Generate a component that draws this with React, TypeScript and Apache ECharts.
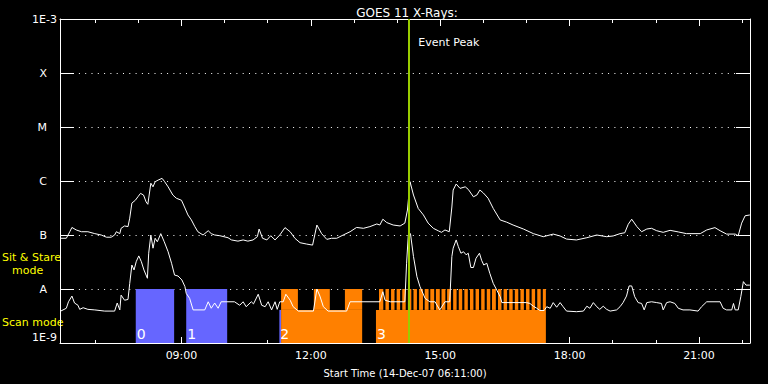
import React, { useEffect, useRef } from 'react';
import * as echarts from 'echarts';

// ---- axis ranges / ticks ----
const startHour = 6 + 11 / 60; // 14-Dec-07 06:11:00
const endHour = 22 + 11 / 60;
const peakHour = 14.27;
const peakLabelFlux = 3.6e-4;
const xMinorTicks = [7, 8, 9, 10, 11, 12, 13, 14, 15, 16, 17, 18, 19, 20, 21, 22];
const xMajorTicks = [9, 12, 15, 18, 21];
const yTickExp = [-9, -8, -7, -6, -5, -4, -3];
const yTickLabel = ['1E-9', 'A', 'B', 'C', 'M', 'X', '1E-3'];

// ---- GOES 11 long channel (1-8 A) ----
const longTime = [6.20, 6.33, 6.41, 6.46, 6.56, 6.68, 6.83, 6.99, 7.14, 7.26, 7.37, 7.45, 7.49, 7.57, 7.60, 7.68, 7.76, 7.80, 7.85, 7.93, 7.99, 8.05, 8.12, 8.18, 8.22, 8.29, 8.34, 8.39, 8.46, 8.55, 8.61, 8.69, 8.80, 8.88, 9.00, 9.07, 9.15, 9.23, 9.31, 9.38, 9.50, 9.62, 9.69, 9.77, 9.89, 10.08, 10.16, 10.31, 10.43, 10.54, 10.66, 10.76, 10.80, 10.88, 10.98, 11.07, 11.17, 11.28, 11.40, 11.52, 11.63, 11.75, 11.90, 12.04, 12.14, 12.25, 12.37, 12.48, 12.60, 12.75, 12.91, 13.06, 13.22, 13.37, 13.53, 13.60, 13.67, 13.76, 13.91, 14.07, 14.18, 14.24, 14.30, 14.38, 14.49, 14.61, 14.72, 14.84, 14.96, 15.03, 15.11, 15.21, 15.27, 15.30, 15.37, 15.46, 15.58, 15.65, 15.77, 15.85, 15.92, 16.00, 16.11, 16.23, 16.39, 16.54, 16.69, 16.93, 17.16, 17.39, 17.62, 17.78, 17.93, 18.16, 18.40, 18.63, 18.86, 19.01, 19.17, 19.28, 19.36, 19.44, 19.56, 19.67, 19.79, 19.90, 20.02, 20.17, 20.33, 20.52, 20.71, 21.03, 21.18, 21.37, 21.49, 21.64, 21.84, 21.91, 21.99, 22.07, 22.18];
const longFlux = [8.7e-8, 8.7e-8, 1.15e-7, 1.38e-7, 1.24e-7, 1.15e-7, 1.15e-7, 1.06e-7, 1.0e-7, 9.1e-8, 9.1e-8, 1.0e-7, 1.15e-7, 1.06e-7, 1.33e-7, 1.47e-7, 1.43e-7, 2.05e-7, 3.9e-7, 4.4e-7, 5.1e-7, 5.9e-7, 5.5e-7, 4.1e-7, 3.7e-7, 9.1e-7, 7.8e-7, 9.7e-7, 1.04e-6, 1.12e-6, 9.7e-7, 7.8e-7, 5.5e-7, 4.8e-7, 4.4e-7, 3.3e-7, 2.35e-7, 1.9e-7, 1.43e-7, 1.15e-7, 1.0e-7, 1.2e-7, 1.06e-7, 1.0e-7, 9.7e-8, 8.9e-8, 8.1e-8, 7.7e-8, 8.1e-8, 7.7e-8, 8.1e-8, 9.3e-8, 1.29e-7, 8.7e-8, 8.1e-8, 9.7e-8, 8.1e-8, 1.0e-7, 1.37e-7, 1.15e-7, 8.7e-8, 7.2e-8, 6.8e-8, 6.5e-8, 1.53e-7, 1.06e-7, 8.3e-8, 8.7e-8, 8.7e-8, 1.0e-7, 1.15e-7, 1.38e-7, 1.33e-7, 1.43e-7, 1.6e-7, 1.53e-7, 1.96e-7, 1.7e-7, 1.53e-7, 1.47e-7, 1.66e-7, 2.9e-7, 9.7e-7, 5.5e-7, 3.1e-7, 2.35e-7, 1.66e-7, 1.33e-7, 1.19e-7, 1.12e-7, 1.24e-7, 1.15e-7, 3.3e-7, 6.8e-7, 8.8e-7, 7.3e-7, 7.8e-7, 7.0e-7, 5.1e-7, 5.5e-7, 6.8e-7, 6.0e-7, 4.8e-7, 3.1e-7, 1.9e-7, 1.73e-7, 1.53e-7, 1.29e-7, 1.06e-7, 9.3e-8, 1.04e-7, 9.6e-8, 8.4e-8, 8.1e-8, 8.9e-8, 1.0e-7, 9.3e-8, 9.6e-8, 1.06e-7, 1.1e-7, 1.58e-7, 1.96e-7, 1.43e-7, 1.15e-7, 1.29e-7, 1.33e-7, 1.2e-7, 1.12e-7, 1.22e-7, 1.14e-7, 1.06e-7, 1.06e-7, 1.24e-7, 1.37e-7, 1.2e-7, 1.04e-7, 1.04e-7, 9.7e-8, 1.66e-7, 2.27e-7, 2.35e-7];

// ---- GOES 11 short channel (0.5-4 A) ----
const shortTime = [6.20, 6.33, 6.38, 6.46, 6.52, 6.60, 6.64, 6.72, 6.83, 6.99, 7.22, 7.45, 7.51, 7.57, 7.60, 7.68, 7.76, 7.80, 7.85, 7.90, 7.95, 8.01, 8.07, 8.13, 8.21, 8.24, 8.29, 8.34, 8.39, 8.44, 8.52, 8.60, 8.69, 8.77, 8.84, 8.92, 9.01, 9.08, 9.11, 9.19, 9.27, 9.54, 9.62, 9.69, 9.77, 9.85, 9.92, 10.23, 10.35, 10.43, 10.50, 10.62, 10.67, 10.78, 10.86, 10.94, 11.01, 11.09, 11.17, 11.22, 11.28, 11.36, 11.42, 11.52, 11.59, 11.71, 12.06, 12.14, 12.21, 12.29, 12.40, 12.83, 12.91, 13.60, 13.67, 13.72, 13.84, 14.18, 14.22, 14.26, 14.31, 14.38, 14.46, 14.53, 14.65, 14.76, 14.88, 14.99, 15.11, 15.22, 15.27, 15.30, 15.37, 15.42, 15.48, 15.54, 15.60, 15.65, 15.71, 15.77, 15.83, 15.91, 15.96, 16.01, 16.08, 16.15, 16.23, 16.31, 16.39, 16.43, 17.00, 17.08, 17.16, 17.24, 17.31, 17.41, 17.47, 17.55, 17.62, 17.70, 17.78, 17.85, 17.93, 18.16, 18.32, 18.40, 18.47, 18.55, 18.63, 18.70, 18.78, 18.86, 18.94, 19.09, 19.17, 19.24, 19.32, 19.38, 19.44, 19.51, 19.59, 19.67, 19.73, 19.79, 19.90, 20.02, 20.13, 20.17, 20.25, 20.33, 20.44, 20.52, 20.63, 20.79, 20.98, 21.06, 21.18, 21.49, 21.56, 21.64, 21.76, 21.80, 21.84, 21.91, 21.97, 22.03, 22.09, 22.18];
const shortFlux = [3.9e-9, 4.4e-9, 5.8e-9, 7.4e-9, 5.5e-9, 5.0e-9, 4.2e-9, 4.5e-9, 4.2e-9, 4.1e-9, 3.9e-9, 3.9e-9, 5.5e-9, 4.1e-9, 7.7e-9, 6.2e-9, 6.4e-9, 1.27e-8, 2.78e-8, 2.25e-8, 3.2e-8, 4.1e-8, 3.2e-8, 2.25e-8, 1.58e-8, 4.6e-8, 1.0e-7, 5.7e-8, 8.7e-8, 7.5e-8, 1.06e-7, 7.5e-8, 4.9e-8, 3.0e-8, 1.81e-8, 1.74e-8, 1.47e-8, 1.11e-8, 8.3e-9, 6.7e-9, 4.1e-9, 4.1e-9, 5.8e-9, 4.4e-9, 5.5e-9, 4.4e-9, 5.8e-9, 5.8e-9, 5.0e-9, 5.8e-9, 4.7e-9, 5.8e-9, 5.3e-9, 8.0e-9, 5.0e-9, 4.7e-9, 5.8e-9, 4.1e-9, 5.8e-9, 4.2e-9, 5.8e-9, 5.8e-9, 8.0e-9, 6.2e-9, 4.7e-9, 3.9e-9, 3.9e-9, 1.0e-8, 7.4e-9, 4.7e-9, 3.9e-9, 3.9e-9, 5.8e-9, 5.8e-9, 8.9e-9, 6.2e-9, 5.8e-9, 5.8e-9, 3.0e-8, 1.0e-7, 1.06e-7, 4.0e-8, 1.69e-8, 1.11e-8, 6.7e-9, 5.8e-9, 5.8e-9, 4.1e-9, 5.8e-9, 5.8e-9, 4.0e-8, 5.7e-8, 8.1e-8, 6.1e-8, 4.6e-8, 4.9e-8, 4.3e-8, 4.6e-8, 2.5e-8, 2.5e-8, 3.7e-8, 4.6e-8, 3.4e-8, 2.78e-8, 3.0e-8, 1.95e-8, 1.27e-8, 9.6e-9, 7.2e-9, 5.6e-9, 5.6e-9, 5.4e-9, 4.8e-9, 4.4e-9, 4.0e-9, 4.0e-9, 4.7e-9, 4.4e-9, 5.6e-9, 4.6e-9, 5.6e-9, 4.7e-9, 3.9e-9, 3.8e-9, 3.9e-9, 4.8e-9, 4.4e-9, 5.6e-9, 4.7e-9, 4.2e-9, 4.8e-9, 4.2e-9, 3.9e-9, 4.1e-9, 4.7e-9, 5.6e-9, 7.4e-9, 1.14e-8, 1.14e-8, 7.2e-9, 5.6e-9, 5.4e-9, 4.1e-9, 5.6e-9, 5.8e-9, 5.6e-9, 5.4e-9, 4.1e-9, 5.6e-9, 5.8e-9, 5.4e-9, 4.4e-9, 4.1e-9, 4.1e-9, 3.9e-9, 4.7e-9, 5.8e-9, 5.8e-9, 4.4e-9, 4.1e-9, 4.1e-9, 5.4e-9, 4.1e-9, 4.1e-9, 7.2e-9, 1.37e-8, 1.18e-8, 1.18e-8];

// ---- observation mode blocks (start h, end h, low flux, high flux, colour index) ----
const modeColors = ['#6666ff', '#ff8000'];
const blockStart = [7.94, 9.11, 11.27, 11.31, 11.31, 12.07, 12.79, 13.51, 13.58, 13.73, 13.86, 13.99, 14.12, 14.25, 14.38, 14.51, 14.64, 14.77, 14.90, 15.03, 15.16, 15.30, 15.43, 15.56, 15.69, 15.82, 15.95, 16.08, 16.20, 16.34, 16.47, 16.60, 16.73, 16.86, 16.99, 17.12, 17.25, 17.38];
const blockEnd = [8.83, 10.06, 11.31, 13.19, 11.70, 12.44, 13.19, 17.45, 13.68, 13.81, 13.94, 14.07, 14.20, 14.33, 14.46, 14.60, 14.73, 14.86, 14.99, 15.12, 15.25, 15.38, 15.51, 15.64, 15.77, 15.90, 16.03, 16.16, 16.29, 16.42, 16.55, 16.68, 16.81, 16.94, 17.07, 17.20, 17.33, 17.45];
const blockLow = [1e-9, 1e-9, 1e-9, 1e-9, 4.1e-9, 4.1e-9, 4.1e-9, 1e-9, 4.1e-9, 4.1e-9, 4.1e-9, 4.1e-9, 4.1e-9, 4.1e-9, 4.1e-9, 4.1e-9, 4.1e-9, 4.1e-9, 4.1e-9, 4.1e-9, 4.1e-9, 4.1e-9, 4.1e-9, 4.1e-9, 4.1e-9, 4.1e-9, 4.1e-9, 4.1e-9, 4.1e-9, 4.1e-9, 4.1e-9, 4.1e-9, 4.1e-9, 4.1e-9, 4.1e-9, 4.1e-9, 4.1e-9, 4.1e-9];
const blockHigh = [1e-8, 1e-8, 4.1e-9, 4.1e-9, 1e-8, 1e-8, 1e-8, 4.1e-9, 1e-8, 1e-8, 1e-8, 1e-8, 1e-8, 1e-8, 1e-8, 1e-8, 1e-8, 1e-8, 1e-8, 1e-8, 1e-8, 1e-8, 1e-8, 1e-8, 1e-8, 1e-8, 1e-8, 1e-8, 1e-8, 1e-8, 1e-8, 1e-8, 1e-8, 1e-8, 1e-8, 1e-8, 1e-8, 1e-8];
const blockColor = [0, 0, 0, 1, 1, 1, 1, 1, 1, 1, 1, 1, 1, 1, 1, 1, 1, 1, 1, 1, 1, 1, 1, 1, 1, 1, 1, 1, 1, 1, 1, 1, 1, 1, 1, 1, 1, 1];
const blockLabelTime = [7.94, 9.11, 11.27, 13.51];
const blockLabelText = ['0', '1', '2', '3'];

const FONT = 'DejaVu Sans';

export default function App() {
  const ref = useRef<HTMLDivElement>(null);
  useEffect(() => {
    if (!ref.current) return;
    const chart = echarts.init(ref.current, null, { renderer: 'svg' });
    const longData = longTime.map((t, i) => [t, longFlux[i]]);
    const shortData = shortTime.map((t, i) => [t, shortFlux[i]]);
    const blockData = blockStart.map((s, i) => [s, blockEnd[i], blockLow[i], blockHigh[i], blockColor[i]]);
    const labelData = blockLabelTime.map((t, i) => [t, 1e-9, i]);
    const white = '#ffffff';
    const xBase = { type: 'value', min: startHour, max: endHour, splitLine: { show: false }, axisLabel: { show: false } };
    chart.setOption({
      animation: false,
      backgroundColor: '#000000',
      textStyle: { fontFamily: FONT },
      title: {
        text: 'GOES 11 X-Rays:',
        left: 402,
        top: 2,
        textAlign: 'center',
        textStyle: { color: white, fontSize: 12, fontWeight: 'normal', fontFamily: FONT },
      },
      grid: { left: 60, top: 19, width: 690, height: 324 },
      graphic: [
        { type: 'text', left: 2, top: 252, style: { text: 'Sit & Stare', fill: '#ffff00', fontSize: 11, fontFamily: FONT } },
        { type: 'text', left: 12, top: 265, style: { text: 'mode', fill: '#ffff00', fontSize: 11, fontFamily: FONT } },
        { type: 'text', left: 2, top: 317, style: { text: 'Scan mode', fill: '#ffff00', fontSize: 11, fontFamily: FONT } },
      ],
      xAxis: [
        {
          ...xBase,
          position: 'bottom',
          axisLine: { show: true, lineStyle: { color: white, width: 1 } },
          axisTick: { show: true, inside: true, length: 3, customValues: xMinorTicks, lineStyle: { color: white } },
          axisLabel: {
            show: true,
            customValues: xMajorTicks,
            color: white,
            fontSize: 11,
            fontFamily: FONT,
            margin: 7,
            formatter: (v: number) => (v < 10 ? '0' : '') + Math.round(v) + ':00',
          },
          name: 'Start Time (14-Dec-07 06:11:00)',
          nameLocation: 'middle',
          nameGap: 25,
          nameTextStyle: { color: white, fontSize: 10, fontFamily: FONT },
        },
        {
          ...xBase,
          position: 'bottom',
          axisLine: { show: false },
          axisTick: { show: true, inside: true, length: 6, customValues: xMajorTicks, lineStyle: { color: white } },
        },
        {
          ...xBase,
          position: 'top',
          axisLine: { show: true, lineStyle: { color: white, width: 1 } },
          axisTick: { show: true, inside: true, length: 4, customValues: xMinorTicks, lineStyle: { color: white } },
        },
        {
          ...xBase,
          position: 'top',
          axisLine: { show: false },
          axisTick: { show: true, inside: true, length: 7, customValues: xMajorTicks, lineStyle: { color: white } },
        },
      ],
      yAxis: [
        {
          type: 'log',
          logBase: 10,
          min: 1e-9,
          max: 1e-3,
          splitNumber: 6,
          position: 'left',
          axisLine: { show: true, lineStyle: { color: white, width: 1 } },
          axisTick: { show: true, inside: true, length: 14, lineStyle: { color: white } },
          splitLine: { show: true, lineStyle: { color: white, width: 1, type: [1, 5.3] } },
          axisLabel: {
            color: white,
            fontSize: 11,
            fontFamily: FONT,
            margin: 3,
            verticalAlignMinLabel: 'bottom',
            verticalAlignMaxLabel: 'top',
            formatter: (v: number) => {
              const e = Math.round(Math.log10(v));
              const i = yTickExp.indexOf(e);
              if (i < 0) return '';
              const s = yTickLabel[i];
              return i === 0 || i === yTickExp.length - 1 ? s : '{c|' + s + '}';
            },
            rich: { c: { color: white, fontSize: 11, fontFamily: FONT, padding: [0, 10, 0, 0] } },
          },
        },
        {
          type: 'log',
          logBase: 10,
          min: 1e-9,
          max: 1e-3,
          splitNumber: 6,
          position: 'right',
          axisLine: { show: true, lineStyle: { color: white, width: 1 } },
          axisTick: { show: true, inside: true, length: 14, lineStyle: { color: white } },
          splitLine: { show: false },
          axisLabel: { show: false },
        },
      ],
      series: [
        {
          type: 'custom',
          name: 'modes',
          xAxisIndex: 0,
          yAxisIndex: 0,
          z: 1,
          silent: true,
          encode: { x: [0, 1], y: [2, 3] },
          renderItem: (params: any, api: any) => {
            const p0 = api.coord([api.value(0), api.value(3)]);
            const p1 = api.coord([api.value(1), api.value(2)]);
            return {
              type: 'rect',
              shape: { x: p0[0], y: p0[1], width: p1[0] - p0[0], height: p1[1] - p0[1] },
              style: { fill: modeColors[api.value(4)] },
            };
          },
          data: blockData,
        },
        {
          type: 'custom',
          name: 'modeLabels',
          xAxisIndex: 0,
          yAxisIndex: 0,
          z: 3,
          silent: true,
          encode: { x: 0, y: 1 },
          renderItem: (params: any, api: any) => {
            const p = api.coord([api.value(0), api.value(1)]);
            return {
              type: 'text',
              x: p[0] + 1,
              y: p[1] - 2,
              style: {
                text: blockLabelText[api.value(2)],
                fill: white,
                fontSize: 14,
                fontFamily: FONT,
                align: 'left',
                verticalAlign: 'bottom',
              },
            };
          },
          data: labelData,
        },
        {
          type: 'line',
          name: 'long',
          data: longData,
          symbol: 'none',
          z: 4,
          lineStyle: { color: white, width: 1 },
          silent: true,
          markLine: {
            silent: true,
            symbol: 'none',
            z: 6,
            label: { show: false },
            lineStyle: { color: '#99cc00', width: 2, type: 'solid' },
            data: [{ xAxis: peakHour }],
          },
          markPoint: {
            silent: true,
            symbol: 'circle',
            symbolSize: 1,
            itemStyle: { color: 'rgba(0,0,0,0)' },
            label: { show: true, position: 'right', distance: 9, formatter: 'Event Peak', color: white, fontSize: 11, fontFamily: FONT },
            data: [{ coord: [peakHour, peakLabelFlux] }],
          },
        },
        {
          type: 'line',
          name: 'short',
          data: shortData,
          symbol: 'none',
          z: 4,
          lineStyle: { color: white, width: 1 },
          silent: true,
        },
      ],
    });
    return () => chart.dispose();
  }, []);
  return (
    <div
      ref={ref}
      style={{ position: 'absolute', left: 0, top: 0, width: 768, height: 384, background: '#000' }}
    />
  );
}
